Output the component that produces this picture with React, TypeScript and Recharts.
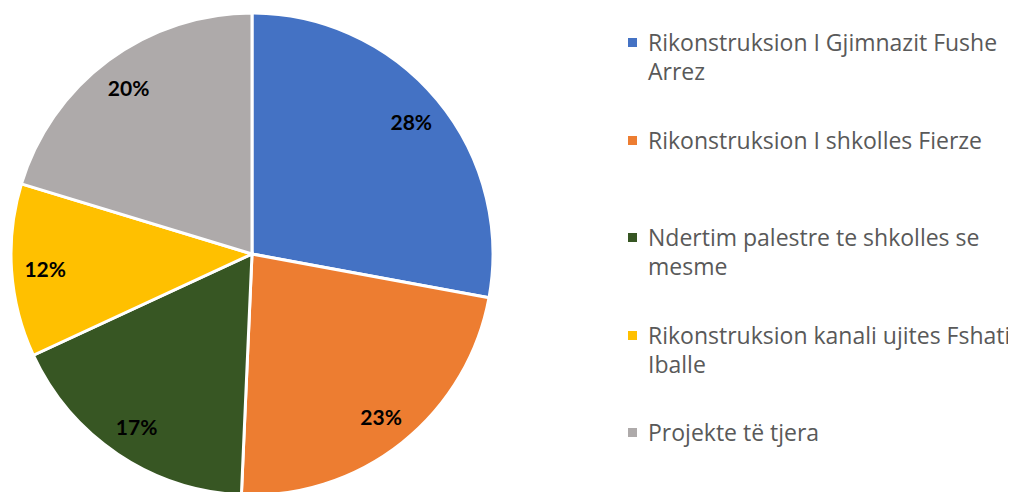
import React from "react";
import { PieChart, Pie, Cell, Legend } from "recharts";

const categories = [
  "Rikonstruksion I Gjimnazit Fushe Arrez",
  "Rikonstruksion I shkolles Fierze",
  "Ndertim palestre te shkolles se mesme",
  "Rikonstruksion kanali ujites Fshati Iballe",
  "Projekte të tjera",
];
const shares = [27.9, 22.8, 17.4, 11.6, 20.3];
const colors = ["#4472C4", "#ED7D31", "#375623", "#FFC000", "#AEAAAA"];

const legendLines = [
  ["Rikonstruksion I Gjimnazit Fushe", "Arrez"],
  ["Rikonstruksion I shkolles Fierze"],
  ["Ndertim palestre te shkolles se", "mesme"],
  ["Rikonstruksion kanali ujites Fshati", "Iballe"],
  ["Projekte të tjera"],
];

const data = categories.map((name, i) => ({ name, value: shares[i] }));

const RADIAN = Math.PI / 180;

const renderLabel = (props: any) => {
  const { cx, cy, midAngle, outerRadius, percent } = props;
  const r = outerRadius * 0.86;
  const x = cx + r * Math.cos(-midAngle * RADIAN);
  const y = cy + r * Math.sin(-midAngle * RADIAN);
  return (
    <text
      x={x}
      y={y}
      textAnchor="middle"
      dominantBaseline="central"
      fill="#000"
      fontFamily="Lato, sans-serif"
      fontWeight="bold"
      fontSize={21}
    >
      {Math.round(percent * 100) + "%"}
    </text>
  );
};

const renderLegend = () => (
  <div style={{ fontFamily: "'Open Sans', sans-serif", fontSize: 23, color: "#595959" }}>
    {legendLines.map((lines, i) => (
      <div
        key={i}
        style={{ position: "relative", height: 97.5, lineHeight: "29px", paddingLeft: 22 }}
      >
        <span
          style={{
            position: "absolute",
            left: 2,
            top: 10,
            width: 9,
            height: 9,
            background: colors[i],
          }}
        />
        {lines.map((l, j) => (
          <div key={j} style={{ whiteSpace: "nowrap" }}>{l}</div>
        ))}
      </div>
    ))}
  </div>
);

export default function App() {
  return (
    <PieChart width={1008} height={484}>
      <Pie
        data={data}
        dataKey="value"
        nameKey="name"
        cx={239}
        cy={241}
        outerRadius={241}
        startAngle={90}
        endAngle={-270}
        stroke="#fff"
        strokeWidth={3}
        label={renderLabel}
        labelLine={false}
        isAnimationActive={false}
      >
        {data.map((d, i) => (
          <Cell key={d.name} fill={colors[i]} />
        ))}
      </Pie>
      <Legend
        content={renderLegend}
        wrapperStyle={{ position: "absolute", left: 618, top: 20, width: 390 }}
      />
    </PieChart>
  );
}
